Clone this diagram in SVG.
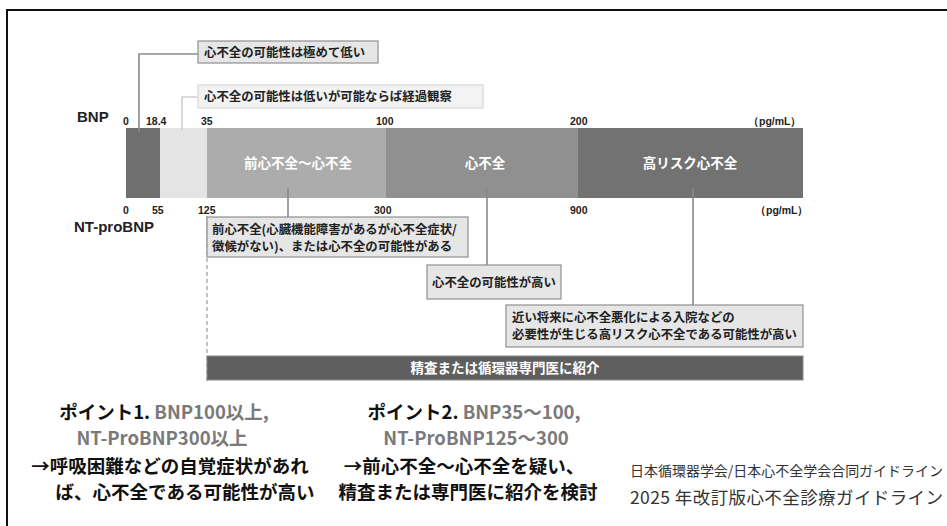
<svg xmlns="http://www.w3.org/2000/svg" width="947" height="526" viewBox="0 0 947 526">
<style>
.f{font-family:"Liberation Sans","Noto Sans CJK JP",sans-serif}
.j{font-family:"Noto Sans CJK JP","Liberation Sans",sans-serif}
.num{font-family:"Liberation Sans",sans-serif;font-weight:bold;font-size:10.5px;fill:#222}
.lbl{font-family:"Noto Sans CJK JP",sans-serif;font-weight:bold;font-size:12.4px;fill:#222}
.bar{font-family:"Noto Sans CJK JP",sans-serif;font-weight:bold;font-size:13.5px;fill:#fff;text-anchor:middle}
.box{fill:#e6e6e6;stroke:#8f8f8f;stroke-width:1.2}
.con{fill:none;stroke:#8a8a8a;stroke-width:1.6}
.pt{font-family:"Noto Sans CJK JP","Liberation Sans",sans-serif;font-weight:bold;font-size:18.5px;text-anchor:middle;fill:#111}
.gr{fill:#7a7a7a}
</style>
<rect x="0" y="0" width="947" height="526" fill="#fff"/>
<rect x="7" y="10" width="980" height="560" fill="none" stroke="#111" stroke-width="2"/>

<g id="scale-labels">
<text x="77" y="122" class="f" font-weight="bold" font-size="15" fill="#222">BNP</text>
<text x="74" y="232" class="f" font-weight="bold" font-size="15" fill="#222">NT-proBNP</text>
<text x="123" y="125" class="num">0</text>
<text x="146" y="125" class="num">18.4</text>
<text x="201" y="125" class="num">35</text>
<text x="376" y="125" class="num">100</text>
<text x="570" y="125" class="num">200</text>
<text x="748" y="125" class="num">（pg/mL）</text>
<text x="123" y="214" class="num">0</text>
<text x="152" y="214" class="num">55</text>
<text x="198" y="214" class="num">125</text>
<text x="374" y="214" class="num">300</text>
<text x="570" y="214" class="num">900</text>
<text x="755" y="214" class="num">（pg/mL）</text>
</g>

<g id="bar">
<rect x="126" y="128" width="34" height="70" fill="#6f6f6f"/>
<rect x="160" y="128" width="47" height="70" fill="#e4e4e4"/>
<rect x="207" y="128" width="179" height="70" fill="#acacac"/>
<rect x="386" y="128" width="192" height="70" fill="#909090"/>
<rect x="578" y="128" width="225" height="70" fill="#727272"/>
<text x="298" y="168" class="bar">前心不全～心不全</text>
<text x="485" y="168" class="bar">心不全</text>
<text x="690" y="168" class="bar">高リスク心不全</text>
</g>

<g id="connectors">
<polyline class="con" points="198,54 139,54 139,132"/>
<polyline class="con" points="198,97 182,97 182,130" stroke="#cfcfcf" style="stroke:#cfcfcf"/>
<line class="con" x1="288" y1="188" x2="288" y2="217"/>
<line class="con" x1="487" y1="188" x2="487" y2="265"/>
<line class="con" x1="693" y1="188" x2="693" y2="305"/>
<line x1="207" y1="216" x2="207" y2="381" stroke="#9a9a9a" stroke-width="1.2" stroke-dasharray="4,3"/>
</g>

<g id="box1">
<rect x="198" y="41" width="180" height="22" class="box"/>
<text x="204" y="57" class="lbl" font-size="12.8">心不全の可能性は極めて低い</text>
</g>
<g id="box2">
<rect x="198" y="85" width="285" height="23" fill="#f3f3f3" stroke="#d8d8d8" stroke-width="1.2"/>
<text x="204" y="101" class="lbl">心不全の可能性は低いが可能ならば経過観察</text>
</g>
<g id="box3">
<rect x="207" y="217" width="261" height="40" class="box"/>
<text x="212" y="234" class="lbl">前心不全(心臓機能障害があるが心不全症状/</text>
<text x="212" y="251" class="lbl">徴候がない)、または心不全の可能性がある</text>
</g>
<g id="box4">
<rect x="427" y="265" width="134" height="34" class="box"/>
<text x="432" y="287" class="lbl">心不全の可能性が高い</text>
</g>
<g id="box5">
<rect x="506" y="305" width="297" height="42" class="box"/>
<text x="512" y="322" class="lbl">近い将来に心不全悪化による入院などの</text>
<text x="512" y="339" class="lbl">必要性が生じる高リスク心不全である可能性が高い</text>
</g>
<g id="referral">
<rect x="207" y="356" width="596" height="24" fill="#5f5f5f" stroke="#8a8a8a" stroke-width="1"/>
<text x="505" y="373" class="bar" font-size="13">精査または循環器専門医に紹介</text>
</g>

<g id="point1">
<text x="164" y="419" class="pt">ポイント1. <tspan class="gr">BNP100以上,</tspan></text>
<text x="162" y="445" class="pt gr">NT-ProBNP300以上</text>
<text x="170" y="473" class="pt">→呼吸困難などの自覚症状があれ</text>
<text x="185" y="499" class="pt">ば、心不全である可能性が高い</text>
</g>
<g id="point2">
<text x="474" y="419" class="pt">ポイント2. <tspan class="gr">BNP35～100,</tspan></text>
<text x="476" y="445" class="pt gr">NT-ProBNP125～300</text>
<text x="464" y="473" class="pt">→前心不全～心不全を疑い、</text>
<text x="468" y="499" class="pt">精査または専門医に紹介を検討</text>
</g>
<g id="citation">
<text x="630" y="476" class="j" font-size="14" fill="#333" textLength="313" lengthAdjust="spacing">日本循環器学会/日本心不全学会合同ガイドライン</text>
<text x="630" y="504" class="j" font-size="17.5" fill="#333" textLength="313" lengthAdjust="spacing">2025 年改訂版心不全診療ガイドライン</text>
</g>
</svg>
